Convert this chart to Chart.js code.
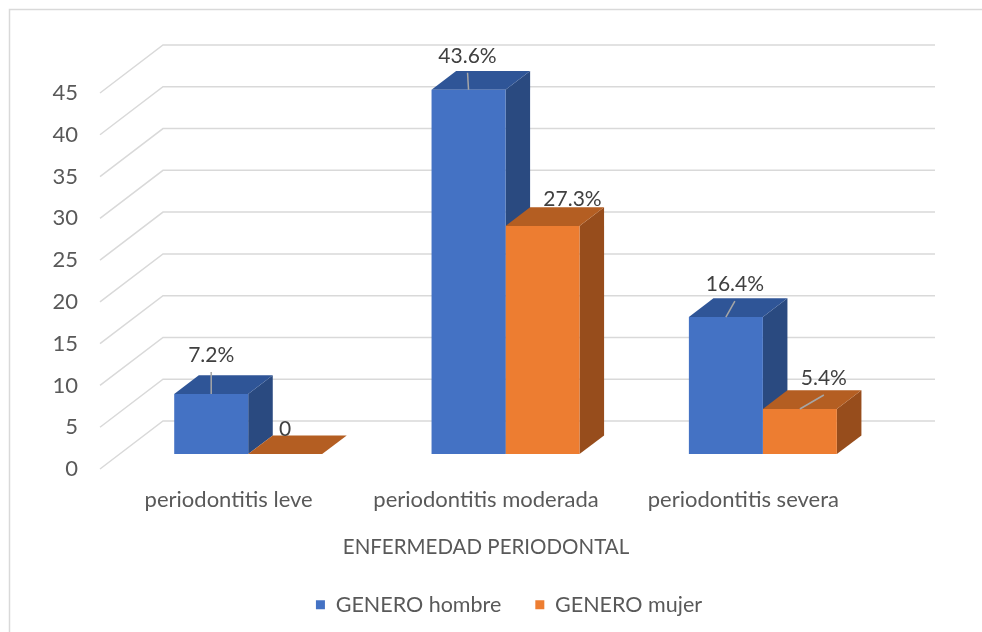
<!DOCTYPE html>
<html>
<head>
<meta charset="utf-8">
<script src="https://cdn.jsdelivr.net/npm/chart.js@4"></script>
<style>
  html, body { margin: 0; padding: 0; background: #ffffff; }
  canvas { display: block; }
</style>
</head>
<body>
<canvas id="chart" width="982" height="632"></canvas>
<script>
// ---- data ----
const categories = ['periodontitis leve', 'periodontitis moderada', 'periodontitis severa'];
const seriesNames = ['GENERO hombre', 'GENERO mujer'];
const hombre = [7.2, 43.6, 16.4];
const mujer = [0, 27.3, 5.4];
const axisTitle = 'ENFERMEDAD PERIODONTAL';
const yMin = 0;
const yMax = 45;
const yStep = 5;

// ---- look ----
const FONT = 'Lato, "Open Sans", sans-serif';
const TEXT = '#595959';
const LABEL_TEXT = '#404040';
const GRID = '#D9D9D9';

// depth of the 3D box (towards back-right) and where the bars sit inside it
const DEPTH = { x: 63, y: -48 };
const BAR_FRONT = 0.31;
const BAR_DEPTH = 0.39;

// per-bar label placement [dx, dy, leader line] relative to the front top edge
const labelPlacement = [
  [[0, -39, true], [-1, -34, true], [9, -33, true]],
  [[0, -25, false], [30, -27, false], [24, -31, true]]
];

function fmt(v) {
  return v === 0 ? '0' : v.toFixed(1) + '%';
}

function quad(ctx, pts, color) {
  ctx.beginPath();
  ctx.moveTo(pts[0][0], pts[0][1]);
  for (let i = 1; i < pts.length; i++) ctx.lineTo(pts[i][0], pts[i][1]);
  ctx.closePath();
  ctx.fillStyle = color;
  ctx.fill();
}

const frame = {
  id: 'frame',
  beforeDraw(chart) {
    const { ctx } = chart;
    ctx.save();
    ctx.strokeStyle = GRID;
    ctx.lineWidth = 1.5;
    ctx.beginPath();
    ctx.moveTo(9.5, chart.height);
    ctx.lineTo(9.5, 9.5);
    ctx.lineTo(chart.width, 9.5);
    ctx.stroke();
    ctx.restore();
  }
};

const box3d = {
  id: 'box3d',
  beforeDatasetsDraw(chart) {
    const { ctx, chartArea: a, scales: { y } } = chart;
    // walls: each tick line runs along the left wall and across the back wall
    ctx.save();
    ctx.strokeStyle = GRID;
    ctx.lineWidth = 1.5;
    y.ticks.forEach(t => {
      const py = y.getPixelForValue(t.value);
      ctx.beginPath();
      ctx.moveTo(a.left, py);
      ctx.lineTo(a.left + DEPTH.x, py + DEPTH.y);
      ctx.lineTo(a.right + DEPTH.x, py + DEPTH.y);
      ctx.stroke();
    });
    ctx.restore();

    // bars live in the middle of the depth
    ctx.save();
    ctx.translate(DEPTH.x * BAR_FRONT, DEPTH.y * BAR_FRONT);
    const dx = DEPTH.x * BAR_DEPTH, dy = DEPTH.y * BAR_DEPTH;
    chart.data.datasets.forEach((ds, di) => {
      const meta = chart.getDatasetMeta(di);
      meta.data.forEach(el => {
        const { x, y: top, base, width } = el.getProps(['x', 'y', 'base', 'width'], true);
        const l = x - width / 2, r = x + width / 2;
        // side face
        quad(ctx, [[r, top], [r + dx, top + dy], [r + dx, base + dy], [r, base]], ds.sideColor);
        // top face
        quad(ctx, [[l, top], [r, top], [r + dx, top + dy], [l + dx, top + dy]], ds.topColor);
      });
    });
  },
  afterDatasetsDraw(chart) {
    const { ctx } = chart;
    ctx.font = '21px ' + FONT;
    ctx.textAlign = 'center';
    ctx.textBaseline = 'middle';
    chart.data.datasets.forEach((ds, di) => {
      const meta = chart.getDatasetMeta(di);
      meta.data.forEach((el, i) => {
        const { x, y: top } = el.getProps(['x', 'y'], true);
        const [ox, oy, leader] = labelPlacement[di][i];
        const lx = x + ox, ly = top + oy;
        if (leader) {
          ctx.strokeStyle = '#A6A6A6';
          ctx.lineWidth = 1.5;
          ctx.beginPath();
          ctx.moveTo(lx, ly + 17);
          ctx.lineTo(x, top);
          ctx.stroke();
        }
        ctx.fillStyle = LABEL_TEXT;
        ctx.fillText(fmt(ds.data[i]), lx, ly);
      });
    });
    ctx.restore();
  }
};

new Chart(document.getElementById('chart'), {
  type: 'bar',
  data: {
    labels: categories,
    datasets: [
      {
        label: seriesNames[0],
        data: hombre,
        backgroundColor: '#4472C4',
        topColor: '#2F5597',
        sideColor: '#2A4A80',
        clip: false
      },
      {
        label: seriesNames[1],
        data: mujer,
        backgroundColor: '#ED7D31',
        topColor: '#B45E22',
        sideColor: '#974D1C',
        clip: false
      }
    ]
  },
  options: {
    responsive: false,
    animation: false,
    devicePixelRatio: 1,
    categoryPercentage: 0.575,
    barPercentage: 1,
    borderWidth: 0,
    layout: { padding: { top: 93, right: 0, left: 36, bottom: 6.5 } },
    scales: {
      x: {
        grid: { display: false, drawTicks: false },
        border: { display: false },
        ticks: { color: TEXT, font: { family: FONT, size: 22 }, padding: 18 },
        title: {
          display: true,
          text: axisTitle,
          color: TEXT,
          font: { family: FONT, size: 20.5 },
          padding: { top: 0, bottom: 0 }
        },
        afterFit(scale) { scale.height = 91; }
      },
      y: {
        min: yMin,
        max: yMax,
        grid: { display: false, drawTicks: false },
        border: { display: false },
        ticks: { stepSize: yStep, color: TEXT, font: { family: FONT, size: 22 }, padding: 22 },
        afterFit(scale) { scale.width = 64; }
      },
      // empty right-hand axis that leaves room for the back wall of the box
      depthRoom: {
        type: 'linear',
        position: 'right',
        grid: { display: false, drawTicks: false },
        border: { display: false },
        ticks: { display: false },
        afterFit(scale) { scale.width = 110; }
      }
    },
    plugins: {
      tooltip: { enabled: false },
      legend: {
        position: 'bottom',
        maxHeight: 66,
        labels: {
          color: TEXT,
          font: { family: FONT, size: 21.5 },
          boxWidth: 9,
          boxHeight: 9,
          padding: 34
        }
      }
    }
  },
  plugins: [frame, box3d]
});
</script>
</body>
</html>
